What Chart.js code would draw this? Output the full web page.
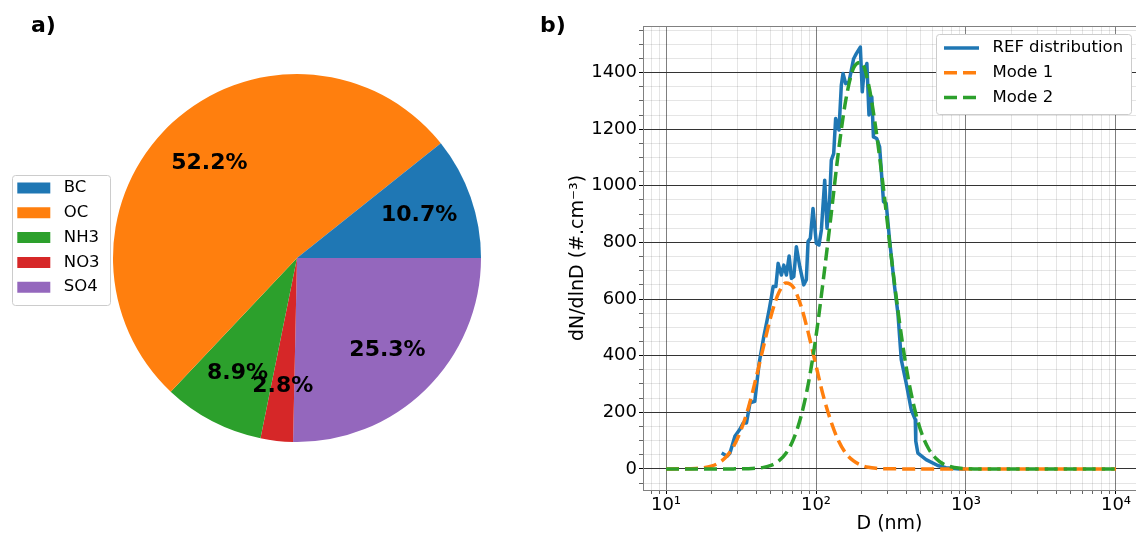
<!DOCTYPE html>
<html>
<head>
<meta charset="utf-8">
<script src="https://cdn.jsdelivr.net/npm/chart.js@4.4.1/dist/chart.umd.min.js"></script>
<style>
  html, body { margin: 0; padding: 0; background: #fff; }
  body { width: 1136px; height: 535px; position: relative; overflow: hidden; }
  .panel { position: absolute; top: 0; height: 535px; }
  #pieWrap { left: 0; width: 540px; }
  #psdWrap { left: 540px; width: 596px; }
  .tag { position: absolute; top: 14px; z-index: 2; font: bold 22px/22px "DejaVu Sans", sans-serif; color: #000; }
</style>
</head>
<body>
<div class="tag" style="left:31px">a)</div>
<div class="tag" style="left:540px">b)</div>
<div id="pieWrap" class="panel"><canvas id="pieChart"></canvas></div>
<div id="psdWrap" class="panel"><canvas id="psdChart"></canvas></div>
<script>
// a) composition
const species = ["BC", "OC", "NH3", "NO3", "SO4"];
const fractions = [10.72, 52.24, 8.86, 2.84, 25.34];
const speciesColors = ["#1f77b4", "#ff7f0e", "#2ca02c", "#d62728", "#9467bd"];

// b) size distribution, REF measurement
const refD = [23.5, 25.6, 26.7, 28.8, 31.0, 32.7, 34.4, 36.3, 39.1, 40.1, 41.8, 44.9, 46.8, 48.7, 50.5,
  51.8, 54.0, 55.9, 58.8, 61.0, 63.5, 66.2, 68.6, 71.1, 74.0, 77.9, 82.8, 86.2, 88.5, 91.7, 95.5,
  100.5, 104.7, 108.6, 114.3, 118.4, 123.3, 126.5, 131.2, 135.2, 142.3, 147.5, 151.4, 157.7, 166.0,
  171.9, 178.2, 185.7, 197.5, 203.5, 208.8, 218.4, 225.5, 235.5, 241.5, 254.1, 265.5, 281.8, 293.7,
  309.3, 334.0, 351.6, 370.2, 399.3, 431.3, 459.0, 462.5, 477.6, 542, 648, 736, 903, 1000];
const refN = [56, 45, 56, 115, 139, 162, 162, 233, 239, 292, 374, 468, 515, 562, 609,
  644, 644, 726, 685, 720, 685, 752, 673, 679, 785, 715, 650, 668, 803, 815, 920,
  797, 791, 844, 1020, 850, 950, 1091, 1114, 1238, 1197, 1355, 1397, 1361, 1367,
  1408, 1449, 1467, 1490, 1332, 1397, 1432, 1250, 1314, 1173, 1167, 1138, 944, 938,
  809, 644, 550, 386, 303, 209, 174, 98, 56, 33, 12, 4, 0, 0];

// fitted modes
const modeD = [10, 12.6, 15.8, 17.8, 20, 22.4, 25.1, 28.2, 31.6, 35.5, 39.8, 44.7, 50.1, 56.2, 63.1,
  70.8, 79.4, 89.1, 100, 112, 126, 141, 158, 178, 200, 224, 251, 282, 316, 355, 398, 447, 501, 562,
  631, 708, 794, 891, 1000, 1260, 1580, 2000, 3160, 5010, 10000];
const mode1N = [0, 0.2, 1.5, 3.9, 9.4, 20.8, 42, 79, 137, 218, 320, 433, 540, 620, 657,
  641, 576, 478, 365, 257, 167, 100, 55, 28, 13, 5.6, 2.2, 0.8, 0.3, 0.1, 0, 0, 0, 0,
  0, 0, 0, 0, 0, 0, 0, 0, 0, 0, 0];
const mode2N = [0, 0, 0, 0, 0, 0, 0, 0.1, 0.3, 0.8, 2.2, 5.4, 12.6, 27, 55,
  105, 185, 304, 468, 670, 896, 1119, 1303, 1416, 1436, 1358, 1199, 988, 759, 544, 364, 228, 133, 72,
  37, 17, 7.6, 3.1, 1.2, 0.1, 0, 0, 0, 0, 0];

const xTickValues = [10, 100, 1000, 10000];
const xTickLabels = ["10\u00b9", "10\u00b2", "10\u00b3", "10\u2074"];
const yTickValues = [0, 200, 400, 600, 800, 1000, 1200, 1400];

Chart.defaults.font.family = "'DejaVu Sans', sans-serif";
Chart.defaults.color = "#000";

function roundRect(ctx, x, y, w, h, r) {
    ctx.beginPath();
    ctx.moveTo(x + r, y);
    ctx.lineTo(x + w - r, y);
    ctx.arcTo(x + w, y, x + w, y + r, r);
    ctx.lineTo(x + w, y + h - r);
    ctx.arcTo(x + w, y + h, x + w - r, y + h, r);
    ctx.lineTo(x + r, y + h);
    ctx.arcTo(x, y + h, x, y + h - r, r);
    ctx.lineTo(x, y + r);
    ctx.arcTo(x, y, x + r, y, r);
    ctx.closePath();
}

// places the legend where matplotlib had it and draws its frame
const legendBox = {
    id: "legendBox",
    afterLayout(chart, args, opts) {
        const lg = chart.legend;
        lg.left = opts.x;
        lg.top = opts.y;
        lg.width = 300;
        lg.height = 300;
        lg.right = opts.x + 300;
        lg.bottom = opts.y + 300;
    },
    afterDraw(chart, args, opts) {
        const hb = chart.legend.legendHitBoxes;
        if (!hb || !hb.length) return;
        const p = opts.pad;
        const l = Math.min(...hb.map(b => b.left)) - p[0];
        const t = hb[0].top - p[1];
        const r = Math.max(...hb.map(b => b.left + b.width)) + p[2];
        const last = hb[hb.length - 1];
        const b = last.top + last.height + p[3];
        const ctx = chart.ctx;
        ctx.save();
        roundRect(ctx, Math.round(l) + 0.5, Math.round(t) + 0.5, Math.round(r - l), Math.round(b - t), 3);
        ctx.fillStyle = "#fff";
        ctx.fill();
        ctx.strokeStyle = "#cccccc";
        ctx.lineWidth = 1;
        ctx.stroke();
        ctx.restore();
        chart.legend.draw();
    }
};

// percentage labels on the wedges
const pctLabels = {
    id: "pctLabels",
    afterDatasetsDraw(chart) {
        const meta = chart.getDatasetMeta(0);
        const data = chart.data.datasets[0].data;
        const total = data.reduce((a, b) => a + b, 0);
        const ctx = chart.ctx;
        ctx.save();
        ctx.font = "bold 22px 'DejaVu Sans'";
        ctx.fillStyle = "#000";
        ctx.textAlign = "center";
        ctx.textBaseline = "middle";
        for (let i = meta.data.length - 1; i >= 0; i--) {
            const p = meta.data[i].getProps(["x", "y", "startAngle", "endAngle", "outerRadius"], true);
            const mid = (p.startAngle + p.endAngle) / 2;
            const r = p.outerRadius * 0.703;
            ctx.fillText((data[i] / total * 100).toFixed(1) + "%", p.x + Math.cos(mid) * r, p.y + Math.sin(mid) * r);
        }
        ctx.restore();
    }
};

// axes frame (top + left visible, right falls off the canvas)
const frame = {
    id: "frame",
    beforeDatasetsDraw(chart) {
        const { ctx, chartArea: a } = chart;
        ctx.save();
        ctx.strokeStyle = "#808080";
        ctx.lineWidth = 1;
        ctx.strokeRect(Math.round(a.left) + 0.5, Math.round(a.top) + 0.5,
            Math.round(a.right - a.left), Math.round(a.bottom - a.top));
        ctx.restore();
    }
};

// a bit more room between handle and text, like matplotlib
const pieLabels = chart => Chart.overrides.pie.plugins.legend.labels.generateLabels(chart)
    .map(l => ({ ...l, text: " " + l.text }));
const lineLabels = chart => Chart.defaults.plugins.legend.labels.generateLabels(chart)
    .map(l => {
        const ds = chart.data.datasets[l.datasetIndex];
        return { ...l, text: " " + l.text, lineDash: ds.borderDash || [], lineWidth: ds.borderWidth };
    });

// Pie: matplotlib goes counter-clockwise from 3 o'clock, so reverse and start at 90deg
new Chart(document.getElementById("pieChart"), {
    type: "pie",
    data: {
        labels: species.slice().reverse(),
        datasets: [{
            data: fractions.slice().reverse(),
            backgroundColor: speciesColors.slice().reverse(),
            borderWidth: 0,
            rotation: 90
        }]
    },
    options: {
        responsive: true,
        maintainAspectRatio: false,
        animation: false,
        devicePixelRatio: 1,
        layout: { padding: { left: 113, right: 59, top: 74, bottom: 93 } },
        plugins: {
            legend: {
                position: "chartArea",
                align: "start",
                reverse: true,
                labels: {
                    boxWidth: 33,
                    boxHeight: 11,
                    padding: 8.3,
                    font: { size: 16.5 },
                    color: "#000",
                    generateLabels: pieLabels
                }
            },
            tooltip: { enabled: false },
            legendBox: { x: 9, y: 171.45, pad: [5.6, 4.75, 10.25, 10] }
        }
    },
    plugins: [legendBox, pctLabels]
});

const pts = (xs, ys) => xs.map((x, i) => ({ x, y: ys[i] }));

function logGridTicks(scale) {
    const ticks = [];
    for (let e = Math.floor(Math.log10(scale.min)); e <= Math.ceil(Math.log10(scale.max)); e++) {
        for (let m = 1; m <= 9; m++) {
            const v = m * Math.pow(10, e);
            if (v >= scale.min && v <= scale.max) ticks.push({ value: v, major: m === 1 });
        }
    }
    scale.ticks = ticks;
}

function linGridTicks(scale) {
    const ticks = [];
    for (let v = -50; v <= 1550; v += 50) ticks.push({ value: v, major: yTickValues.includes(v) });
    scale.ticks = ticks;
}

const minorGrid = "rgba(0,0,0,0.1)";

new Chart(document.getElementById("psdChart"), {
    type: "line",
    data: {
        datasets: [
            {
                label: "REF distribution",
                data: pts(refD, refN),
                borderColor: "#1f77b4",
                backgroundColor: "#1f77b4",
                borderWidth: 3.5,
                borderJoinStyle: "round",
                pointRadius: 0,
                order: 3
            },
            {
                label: "Mode 1",
                data: pts(modeD, mode1N),
                borderColor: "#ff7f0e",
                backgroundColor: "#ff7f0e",
                borderWidth: 3.5,
                borderDash: [13, 6],
                cubicInterpolationMode: "monotone",
                pointRadius: 0,
                order: 2
            },
            {
                label: "Mode 2",
                data: pts(modeD, mode2N),
                borderColor: "#2ca02c",
                backgroundColor: "#2ca02c",
                borderWidth: 3.5,
                borderDash: [13, 6],
                cubicInterpolationMode: "monotone",
                pointRadius: 0,
                order: 1
            }
        ]
    },
    options: {
        responsive: true,
        maintainAspectRatio: false,
        animation: false,
        devicePixelRatio: 1,
        layout: { padding: { left: 0, right: 0, top: 26, bottom: 0 } },
        scales: {
            x: {
                type: "logarithmic",
                min: 7.025,
                max: 13594,
                afterBuildTicks: logGridTicks,
                afterFit: s => { s.height = 45; },
                border: { display: false },
                grid: {
                    color: c => c.tick && c.tick.major ? "rgba(0,0,0,0.5)" : minorGrid,
                    tickLength: 4,
                    tickColor: c => c.tick && c.tick.major ? "#000" : "#666"
                },
                ticks: {
                    autoSkip: false,
                    maxRotation: 0,
                    padding: 1,
                    font: { size: 18 },
                    color: "#000",
                    callback: v => {
                        const k = xTickValues.indexOf(v);
                        return k < 0 ? "" : xTickLabels[k];
                    }
                },
                title: {
                    display: true,
                    text: "D (nm)",
                    font: { size: 19 },
                    color: "#000",
                    padding: { top: 0, bottom: 0 }
                }
            },
            y: {
                min: -74.5,
                max: 1564.5,
                afterBuildTicks: linGridTicks,
                afterFit: s => { s.width = 103; },
                border: { display: false },
                grid: {
                    color: c => c.tick && c.tick.major ? "#333" : minorGrid,
                    tickLength: 4,
                    tickColor: c => c.tick && c.tick.major ? "#000" : "#666"
                },
                ticks: {
                    autoSkip: false,
                    padding: 2,
                    font: { size: 18 },
                    color: "#000",
                    callback: v => yTickValues.includes(v) ? String(v) : ""
                },
                title: {
                    display: true,
                    text: "dN/dlnD (#.cm\u207b\u00b3)",
                    font: { size: 19 },
                    color: "#000",
                    padding: { top: 26.6, bottom: 0 }
                }
            }
        },
        plugins: {
            legend: {
                position: "chartArea",
                align: "start",
                labels: {
                    usePointStyle: true,
                    pointStyle: "line",
                    pointStyleWidth: 35,
                    padding: 8.3,
                    font: { size: 16.5 },
                    color: "#000",
                    sort: (a, b) => a.datasetIndex - b.datasetIndex,
                    generateLabels: lineLabels
                }
            },
            tooltip: { enabled: false },
            legendBox: { x: 395.7, y: 31.45, pad: [8, 5.75, 7.8, 8.15] }
        }
    },
    plugins: [frame, legendBox]
});
</script>
</body>
</html>
